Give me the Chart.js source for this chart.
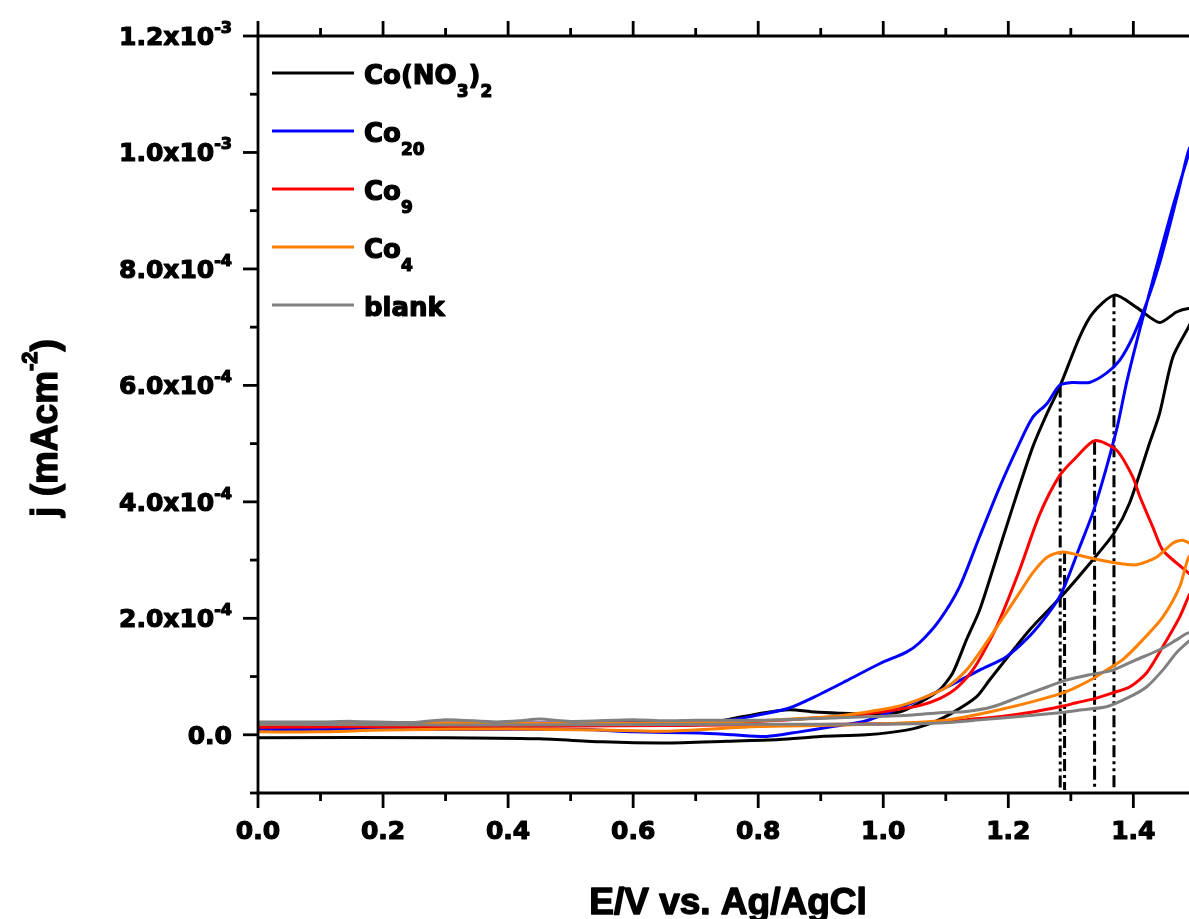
<!DOCTYPE html>
<html>
<head>
<meta charset="utf-8">
<title>Linear sweep voltammograms</title>
<script src="https://cdn.jsdelivr.net/npm/chart.js@4.4.1/dist/chart.umd.min.js"></script>
<style>
  html, body { margin: 0; padding: 0; background: #fff; overflow: hidden; }
  canvas { display: block; }
</style>
</head>
<body>
<canvas id="cv" width="1189" height="919"></canvas>
<script>
/* Anodic scans of the cobalt samples vs. the blank electrode */

// --- Data (E in V vs Ag/AgCl, j in units of 1e-4 mA cm^-2) ---
// each curve goes forward to the vertex and back

const no3E = [0, 0.2, 0.4, 0.55, 0.65, 0.71, 0.76, 0.81, 0.85, 0.89, 0.93, 0.97, 1.026, 1.058, 1.09, 1.111,
  1.133, 1.154, 1.175, 1.207, 1.239, 1.262, 1.282, 1.314, 1.335, 1.37, 1.405, 1.442, 1.469, 1.488, 1.5,
  1.488, 1.463, 1.442, 1.426, 1.394, 1.369, 1.338, 1.287, 1.234, 1.17, 1.149, 1.111, 1.079, 1.037, 0.973,
  0.9, 0.834, 0.75, 0.65, 0.55, 0.45, 0.3, 0];
const no3J = [0.13, 0.14, 0.15, 0.16, 0.16, 0.18, 0.28, 0.38, 0.43, 0.39, 0.37, 0.36, 0.39, 0.55, 0.77, 1.06,
  1.63, 2.14, 2.83, 3.91, 4.94, 5.52, 5.97, 6.83, 7.24, 7.55, 7.34, 7.08, 7.26, 7.32, 7.3,
  7.0, 6.48, 5.52, 5.01, 3.98, 3.46, 3.04, 2.40, 1.80, 0.94, 0.65, 0.38, 0.21, 0.08, 0.0,
  -0.03, -0.08, -0.11, -0.14, -0.12, -0.07, -0.05, -0.05];

const co20E = [0, 0.3, 0.6, 0.7, 0.76, 0.81, 0.85, 0.89, 0.94, 0.994, 1.037, 1.058, 1.09, 1.122, 1.154, 1.186,
  1.218, 1.239, 1.262, 1.282, 1.303, 1.33, 1.357, 1.378, 1.399, 1.421, 1.442, 1.463, 1.479, 1.488, 1.5,
  1.488, 1.463, 1.431, 1.41, 1.389, 1.373, 1.338, 1.314, 1.282, 1.239, 1.197, 1.154, 1.102, 1.047, 0.973,
  0.919, 0.866, 0.813, 0.76, 0.706, 0.6, 0.52, 0.3, 0];
const co20J = [0.2, 0.2, 0.21, 0.23, 0.26, 0.36, 0.46, 0.65, 0.92, 1.22, 1.42, 1.58, 1.97, 2.54, 3.40, 4.25,
  5.01, 5.45, 5.69, 6.0, 6.05, 6.05, 6.21, 6.43, 6.83, 7.41, 8.10, 8.95, 9.64, 10.02, 10.3,
  9.95, 9.06, 7.80, 6.95, 6.04, 5.23, 3.9, 3.22, 2.37, 1.75, 1.34, 1.11, 0.82, 0.55, 0.24,
  0.14, 0.05, -0.03, 0.0, 0.03, 0.05, 0.09, 0.09, 0.09];

const co9E = [0, 0.3, 0.6, 0.75, 0.85, 0.95, 1.02, 1.058, 1.09, 1.117, 1.143, 1.165, 1.186, 1.218, 1.25, 1.282,
  1.309, 1.338, 1.373, 1.399, 1.41, 1.431, 1.447, 1.469, 1.488, 1.5,
  1.488, 1.474, 1.447, 1.421, 1.394, 1.367, 1.338, 1.309, 1.282, 1.239, 1.186, 1.133, 1.1, 1.0, 0.8,
  0.5, 0.2, 0];
const co9J = [0.17, 0.18, 0.18, 0.2, 0.26, 0.33, 0.43, 0.5, 0.62, 0.8, 1.11, 1.51, 1.97, 2.83, 3.78, 4.45,
  4.77, 5.05, 4.89, 4.43, 4.1, 3.57, 3.17, 2.95, 2.78, 2.65,
  2.37, 2.02, 1.51, 1.06, 0.82, 0.72, 0.62, 0.55, 0.48, 0.39, 0.31, 0.26, 0.22, 0.19, 0.17,
  0.15, 0.14, 0.13];

const co4E = [0, 0.3, 0.6, 0.75, 0.834, 0.914, 0.967, 1.021, 1.063, 1.102, 1.133, 1.154, 1.186, 1.218, 1.239,
  1.262, 1.287, 1.33, 1.373, 1.405, 1.437, 1.463, 1.479, 1.5,
  1.488, 1.474, 1.447, 1.415, 1.383, 1.357, 1.338, 1.309, 1.287, 1.239, 1.186, 1.133, 1.1, 1.03, 0.95,
  0.8, 0.65, 0.55, 0.4, 0.2, 0.1, 0];
const co4J = [0.18, 0.2, 0.2, 0.22, 0.26, 0.31, 0.38, 0.48, 0.63, 0.82, 1.11, 1.41, 1.92, 2.44, 2.78,
  3.05, 3.14, 3.04, 2.95, 2.92, 3.05, 3.29, 3.34, 3.2,
  3.04, 2.54, 2.02, 1.63, 1.29, 1.11, 0.98, 0.82, 0.72, 0.57, 0.43, 0.31, 0.25, 0.2, 0.17,
  0.14, 0.06, 0.08, 0.1, 0.08, 0.05, 0.05];

const blankE = [0, 0.1, 0.15, 0.25, 0.3, 0.38, 0.42, 0.45, 0.5, 0.6, 0.65, 0.7, 0.8, 0.9, 1.0, 1.047, 1.09,
  1.133, 1.175, 1.218, 1.262, 1.293, 1.33, 1.367, 1.405, 1.442, 1.469, 1.488, 1.5,
  1.488, 1.469, 1.447, 1.421, 1.394, 1.357, 1.319, 1.282, 1.213, 1.159, 1.106, 1.0, 0.8, 0.5, 0.2, 0];
const blankJ = [0.22, 0.22, 0.23, 0.21, 0.26, 0.22, 0.24, 0.27, 0.23, 0.26, 0.24, 0.25, 0.25, 0.28, 0.32, 0.34, 0.38,
  0.4, 0.48, 0.65, 0.82, 0.94, 1.03, 1.11, 1.29, 1.46, 1.63, 1.75, 1.7,
  1.6, 1.41, 1.11, 0.82, 0.65, 0.48, 0.43, 0.38, 0.31, 0.26, 0.21, 0.18, 0.18, 0.17, 0.17, 0.18];

// dash-dot guides dropped from the peak / shoulder potentials
const guideE = [1.283, 1.290, 1.338, 1.369];
const guideTopJ = [6.0, 3.14, 5.05, 7.55];
const guideBottomJ = -0.95;

// --- Axes ---
const xMajorTicks = [0, 0.2, 0.4, 0.6, 0.8, 1.0, 1.2, 1.4];
const xMinorTicks = [0.1, 0.3, 0.5, 0.7, 0.9, 1.1, 1.3];
const xTickLabels = ['0.0', '0.2', '0.4', '0.6', '0.8', '1.0', '1.2', '1.4'];
const yMajorTicks = [0, 2e-4, 4e-4, 6e-4, 8e-4, 1e-3, 1.2e-3];
const yMinorTicks = [-1e-4, 1e-4, 3e-4, 5e-4, 7e-4, 9e-4, 1.1e-3];
const yTickMantissa = ['0.0', '2.0x10', '4.0x10', '6.0x10', '8.0x10', '1.0x10', '1.2x10'];
const yTickExponent = ['', '-4', '-4', '-4', '-4', '-3', '-3'];

const J_UNIT = 1e-4;

const series = [
  { label: ['Co(NO', ['3'], ')', ['2']], E: no3E, J: no3J, color: '#000000' },
  { label: ['Co', ['20']], E: co20E, J: co20J, color: '#0000ff' },
  { label: ['Co', ['9']], E: co9E, J: co9J, color: '#ff0000' },
  { label: ['Co', ['4']], E: co4E, J: co4J, color: '#ff8000' },
  { label: ['blank'], E: blankE, J: blankJ, color: '#808080' },
];

const guideDashes = [[12, 4, 3, 4, 3, 4], [12, 4, 3, 4], [14, 4, 3, 4], [12, 4, 3, 4, 3, 4]];

const TICK_FONT = 'bold 25px "DejaVu Sans"';
const SUP_FONT = 'bold 16px "DejaVu Sans"';
const LEGEND_FONT = 'bold 26px "DejaVu Sans"';
const SUB_FONT = 'bold 17px "DejaVu Sans"';
const TITLE_FONT = 'bold 37px "Liberation Sans"';

// parts: plain strings, or one-element arrays for shifted (sub/sup) text.
// A thin stroke on top of the fill gives the heavy look of the labels.
function drawRich(ctx, parts, x, y, align, mainFont, smallFont, shift, heavy) {
    const pieces = parts.map(p => Array.isArray(p)
        ? { t: p[0], font: smallFont, dy: shift }
        : { t: p, font: mainFont, dy: 0 });
    let total = 0;
    pieces.forEach(p => { ctx.font = p.font; p.w = ctx.measureText(p.t).width; total += p.w; });
    let cx = align === 'right' ? x - total : align === 'center' ? x - total / 2 : x;
    ctx.textAlign = 'left';
    ctx.textBaseline = 'alphabetic';
    ctx.lineJoin = 'round';
    ctx.strokeStyle = '#000';
    ctx.lineWidth = heavy || 1.2;
    pieces.forEach(p => {
        ctx.font = p.font;
        ctx.fillText(p.t, cx, y + p.dy);
        ctx.strokeText(p.t, cx, y + p.dy);
        cx += p.w;
    });
}

const frame = {
    id: 'frame',
    afterDatasetsDraw(chart) {
        const ctx = chart.ctx;
        const { left, right, top, bottom } = chart.chartArea;
        const xs = chart.scales.x, ys = chart.scales.y;
        ctx.save();
        ctx.fillStyle = '#000';
        ctx.lineCap = 'butt';

        const line = (x1, y1, x2, y2) => {
            ctx.beginPath(); ctx.moveTo(x1, y1); ctx.lineTo(x2, y2); ctx.stroke();
        };
        const axisPen = () => { ctx.strokeStyle = '#000'; ctx.lineWidth = 2.8; };
        axisPen();

        // axis lines (right side runs off the page)
        line(left, top, left, bottom);
        line(left - 1.4, top, right + 5, top);
        line(left - 1.4, bottom, right + 5, bottom);

        // ticks point outward on bottom, top and left
        xMajorTicks.forEach(v => {
            const px = xs.getPixelForValue(v);
            line(px, bottom, px, bottom + 15);
            line(px, top, px, top - 15);
        });
        xMinorTicks.forEach(v => {
            const px = xs.getPixelForValue(v);
            line(px, bottom, px, bottom + 8);
            line(px, top, px, top - 8);
        });
        yMajorTicks.forEach(v => {
            const py = ys.getPixelForValue(v);
            line(left, py, left - 15, py);
        });
        yMinorTicks.forEach(v => {
            const py = ys.getPixelForValue(v);
            line(left, py, left - 8, py);
        });

        // tick labels
        xMajorTicks.forEach((v, i) => {
            drawRich(ctx, [xTickLabels[i]], xs.getPixelForValue(v), bottom + 46, 'center', TICK_FONT, SUP_FONT, 0);
        });
        yMajorTicks.forEach((v, i) => {
            const py = ys.getPixelForValue(v);
            const parts = yTickExponent[i] ? [yTickMantissa[i], [yTickExponent[i]]] : [yTickMantissa[i]];
            drawRich(ctx, parts, left - 26, py + 9, 'right', TICK_FONT, SUP_FONT, -12);
        });

        // axis titles
        drawRich(ctx, ['E/V vs. Ag/AgCl'], 728, 914, 'center', TITLE_FONT, TITLE_FONT, 0, 1.4);
        ctx.save();
        ctx.translate(57, 428);
        ctx.rotate(-Math.PI / 2);
        drawRich(ctx, ['j (mAcm', ['-2'], ')'], 0, 0, 'center', TITLE_FONT, 'bold 22px "Liberation Sans"', -20, 1.4);
        ctx.restore();

        // legend
        series.forEach((s, i) => {
            const ly = 73 + i * 58;
            ctx.strokeStyle = s.color;
            ctx.lineWidth = 2.8;
            line(272, ly, 354, ly);
            ctx.fillStyle = '#000';
            drawRich(ctx, s.label, 364, ly + 11, 'left', LEGEND_FONT, SUB_FONT, 13);
        });
        ctx.restore();
    }
};

const datasets = [];
series.slice().reverse().forEach(s => {
    datasets.push({
        data: s.E.map((e, i) => ({ x: e, y: s.J[i] * J_UNIT })),
        showLine: true,
        borderColor: s.color,
        borderWidth: 3,
        pointRadius: 0,
        tension: 0.25,
        fill: false,
    });
});
guideE.forEach((e, i) => {
    datasets.push({
        data: [{ x: e, y: guideTopJ[i] * J_UNIT }, { x: e, y: guideBottomJ * J_UNIT }],
        showLine: true,
        borderColor: '#000',
        borderWidth: 3,
        borderDash: guideDashes[i],
        pointRadius: 0,
        fill: false,
    });
});

new Chart(document.getElementById('cv').getContext('2d'), {
    type: 'scatter',
    data: { datasets: datasets },
    options: {
        responsive: false,
        animation: false,
        events: [],
        layout: { padding: { left: 258, top: 36, right: 0, bottom: 126 } },
        plugins: { legend: { display: false }, tooltip: { enabled: false } },
        scales: {
            x: { type: 'linear', min: 0, max: 1.489, display: false },
            y: { type: 'linear', min: -1e-4, max: 1.2e-3, display: false }
        }
    },
    plugins: [frame]
});
</script>
</body>
</html>
